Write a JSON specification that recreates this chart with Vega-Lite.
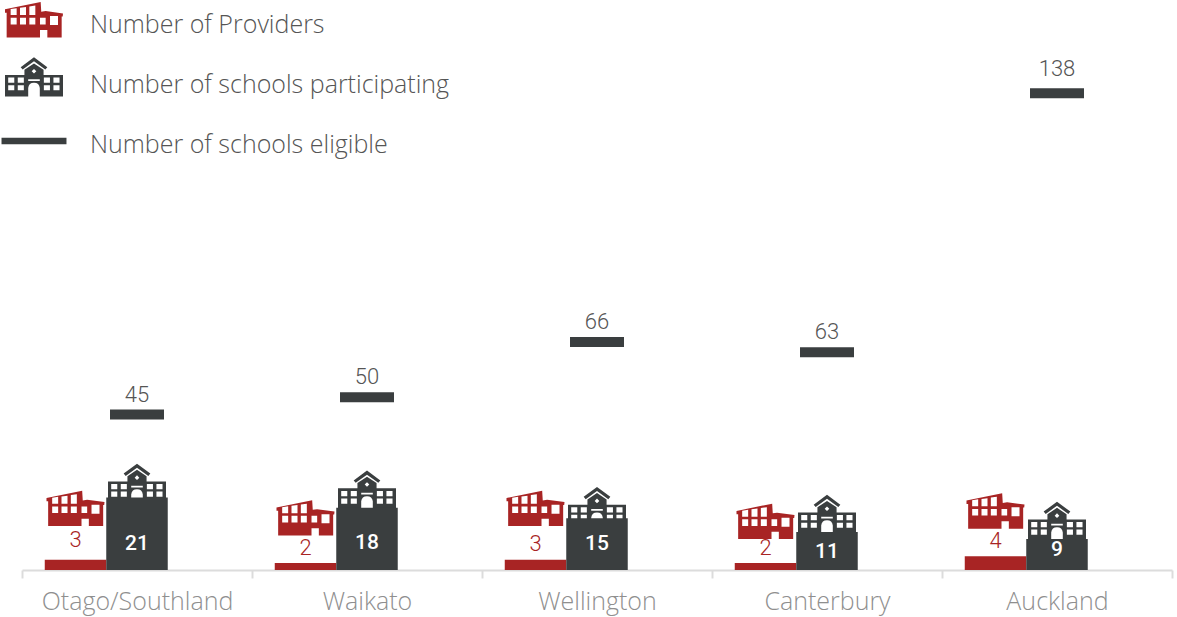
{
"$schema":"https://vega.github.io/schema/vega-lite/v6.json",
"width":1150,"height":570,"autosize":"none",
"padding":{"left":22,"top":0,"right":5,"bottom":47},
"background":"white",
"view":{"stroke":null},
"data":{"values":[
{"region":"Otago/Southland","series":"Number of Providers","value":3},
{"region":"Waikato","series":"Number of Providers","value":2},
{"region":"Wellington","series":"Number of Providers","value":3},
{"region":"Canterbury","series":"Number of Providers","value":2},
{"region":"Auckland","series":"Number of Providers","value":4},
{"region":"Otago/Southland","series":"Number of schools participating","value":21},
{"region":"Waikato","series":"Number of schools participating","value":18},
{"region":"Wellington","series":"Number of schools participating","value":15},
{"region":"Canterbury","series":"Number of schools participating","value":11},
{"region":"Auckland","series":"Number of schools participating","value":9},
{"region":"Otago/Southland","series":"Number of schools eligible","value":45},
{"region":"Waikato","series":"Number of schools eligible","value":50},
{"region":"Wellington","series":"Number of schools eligible","value":66},
{"region":"Canterbury","series":"Number of schools eligible","value":63},
{"region":"Auckland","series":"Number of schools eligible","value":138}
]},
"encoding":{
"x":{"field":"region","type":"nominal","scale":{"domain":["Otago/Southland","Waikato","Wellington","Canterbury","Auckland"],"paddingInner":0,"paddingOuter":0},
"axis":{"title":null,"labelAngle":0,"labelFont":"Open Sans","labelFontWeight":300,"labelFontSize":25,"labelColor":"#8f8f8f","labelPadding":11,"labelLimit":400,"tickBand":"extent","tickSize":8,"tickColor":"#dcdcdc","tickWidth":2,"domainColor":"#dcdcdc","domainWidth":2,"grid":false}},
"y":{"field":"value","type":"quantitative","scale":{"domain":[0,165],"nice":false},"axis":null}
},
"layer":[
{"transform":[{"filter":"datum.series==='Number of Providers' && (datum.region==='Otago/Southland' || datum.region==='Wellington')"}],
 "mark":{"type":"point","filled":true,"opacity":1,"size":3364,"yOffset":-46},
 "encoding":{"xOffset":{"field":"series","scale":{"domain":["Number of Providers","Number of schools participating","gap"],"paddingInner":0,"paddingOuter":0.37}},
 "shape":{"field":"series","type":"nominal","scale":{"domain":["Number of Providers","Number of schools participating","Number of schools eligible"],"range":[
"M-1 -0.54L0.23 -0.79L0.25 -0.457L0.4 -0.48L1 -0.4L0.99 -0.296L0.954 -0.296L0.954 0.43L0.46 0.43L0.46 0.175L0.207 0.175L0.207 0.43L-0.943 0.43L-0.943 -0.423L-1 -0.423ZM-0.805 -0.55L-0.805 -0.342L-0.598 -0.342L-0.598 -0.58ZM-0.483 -0.595L-0.483 -0.342L-0.276 -0.342L-0.276 -0.62ZM-0.161 -0.64L-0.161 -0.342L0.046 -0.342L0.046 -0.67ZM-0.805 -0.25L-0.805 -0.021L-0.598 -0.021L-0.598 -0.25ZM-0.483 -0.25L-0.483 -0.021L-0.276 -0.021L-0.276 -0.25ZM-0.161 -0.25L-0.161 -0.021L0.046 -0.021L0.046 -0.25ZM0.207 -0.25L0.207 -0.021L0.402 -0.021L0.402 -0.25ZM0.552 -0.308L0.552 0.002L0.828 0.002L0.828 -0.308Z",
"M0 -0.955L0.46 -0.615L0.39 -0.535L0 -0.815L-0.39 -0.535L-0.46 -0.615ZM-1 -0.345L-0.33 -0.345L-0.33 -0.525L0 -0.745L0.33 -0.525L0.33 -0.345L1 -0.345L1 0.395L0.2 0.395L0.2 0.105Q0.18 -0.075 0 -0.075Q-0.18 -0.075 -0.2 0.105L-0.2 0.395L-1 0.395ZM0 -0.555L-0.08 -0.475L0 -0.395L0.08 -0.475ZM-0.89 -0.255L-0.89 -0.075L-0.68 -0.075L-0.68 -0.255ZM-0.56 -0.255L-0.56 -0.075L-0.35 -0.075L-0.35 -0.255ZM0.34 -0.255L0.34 -0.075L0.55 -0.075L0.55 -0.255ZM0.67 -0.255L0.67 -0.075L0.88 -0.075L0.88 -0.255ZM-0.89 0.005L-0.89 0.185L-0.68 0.185L-0.68 0.005ZM-0.56 0.005L-0.56 0.185L-0.35 0.185L-0.35 0.005ZM0.34 0.005L0.34 0.185L0.55 0.185L0.55 0.005ZM0.67 0.005L0.67 0.185L0.88 0.185L0.88 0.005ZM-0.2 -0.195L-0.2 -0.135L0.2 -0.135L0.2 -0.195Z",
"M-1.12 -0.25L1.12 -0.25L1.12 -0.03L-1.12 -0.03Z"]},
 "legend":{"title":null,"orient":"none","legendX":-17,"legendY":-4,"padding":0,"symbolSize":3364,"symbolStrokeWidth":0,"rowPadding":18,"labelFont":"Open Sans","labelFontWeight":300,"labelFontSize":25,"labelColor":"#555555","labelOffset":27,"labelLimit":500}},
 "color":{"field":"series","type":"nominal","scale":{"domain":["Number of Providers","Number of schools participating","Number of schools eligible"],"range":["#a82424","#3a3e3f","#3a3e3f"]}}}},
{"transform":[{"filter":"datum.series==='Number of Providers' && (datum.region==='Waikato' || datum.region==='Auckland')"}],
 "mark":{"type":"point","filled":true,"opacity":1,"size":3364,"yOffset":-40},
 "encoding":{"xOffset":{"field":"series"},"shape":{"field":"series","type":"nominal"},"color":{"field":"series","type":"nominal"}}},
{"transform":[{"filter":"datum.series==='Number of Providers' && datum.region==='Canterbury'"}],
 "mark":{"type":"point","filled":true,"opacity":1,"size":3364,"yOffset":-36.5},
 "encoding":{"xOffset":{"field":"series"},"shape":{"field":"series","type":"nominal"},"color":{"field":"series","type":"nominal"}}},
{"transform":[{"filter":"datum.series==='Number of schools participating' && datum.region==='Otago/Southland'"}],
 "mark":{"type":"point","filled":true,"opacity":1,"size":3364,"yOffset":-6},
 "encoding":{"xOffset":{"field":"series"},"shape":{"field":"series","type":"nominal"},"color":{"field":"series","type":"nominal"}}},
{"transform":[{"filter":"datum.series==='Number of schools participating' && (datum.region==='Waikato' || datum.region==='Canterbury' || datum.region==='Auckland')"}],
 "mark":{"type":"point","filled":true,"opacity":1,"size":3364,"yOffset":-9.5},
 "encoding":{"xOffset":{"field":"series"},"shape":{"field":"series","type":"nominal"},"color":{"field":"series","type":"nominal"}}},
{"transform":[{"filter":"datum.series==='Number of schools participating' && datum.region==='Wellington'"}],
 "mark":{"type":"point","filled":true,"opacity":1,"size":3364,"yOffset":-3.5},
 "encoding":{"xOffset":{"field":"series"},"shape":{"field":"series","type":"nominal"},"color":{"field":"series","type":"nominal"}}},
{"transform":[{"filter":"datum.series!=='Number of schools eligible'"}],
 "mark":{"type":"bar"},
 "encoding":{"xOffset":{"field":"series"},"color":{"field":"series","type":"nominal"}}},
{"transform":[{"filter":"datum.series==='Number of schools eligible'"}],
 "mark":{"type":"tick","orient":"horizontal","size":54,"thickness":10,"opacity":1,"color":"#3a3e3f"}},
{"transform":[{"filter":"datum.series==='Number of schools eligible' && datum.region!=='Auckland'"}],
 "mark":{"type":"text","font":"Roboto","fontWeight":300,"fontSize":22,"color":"#555555","baseline":"middle","dy":-20},
 "encoding":{"text":{"field":"value","type":"quantitative"}}},
{"transform":[{"filter":"datum.series==='Number of schools eligible' && datum.region==='Auckland'"}],
 "mark":{"type":"text","font":"Roboto","fontWeight":300,"fontSize":22,"color":"#555555","baseline":"middle","dy":-24},
 "encoding":{"text":{"field":"value","type":"quantitative"}}},
{"transform":[{"filter":"datum.series==='Number of Providers' && datum.region==='Otago/Southland'"}],
 "mark":{"type":"text","font":"Roboto","fontWeight":300,"fontSize":22,"color":"#a82424","baseline":"middle","dy":-20},
 "encoding":{"xOffset":{"field":"series"},"text":{"field":"value","type":"quantitative"}}},
{"transform":[{"filter":"datum.series==='Number of Providers' && datum.region==='Wellington'"}],
 "mark":{"type":"text","font":"Roboto","fontWeight":300,"fontSize":22,"color":"#a82424","baseline":"middle","dy":-16},
 "encoding":{"xOffset":{"field":"series"},"text":{"field":"value","type":"quantitative"}}},
{"transform":[{"filter":"datum.series==='Number of Providers' && datum.region!=='Otago/Southland' && datum.region!=='Wellington'"}],
 "mark":{"type":"text","font":"Roboto","fontWeight":300,"fontSize":22,"color":"#a82424","baseline":"middle","dy":-15},
 "encoding":{"xOffset":{"field":"series"},"text":{"field":"value","type":"quantitative"}}},
{"transform":[{"filter":"datum.series==='Number of schools participating' && datum.region==='Otago/Southland'"}],
 "mark":{"type":"text","font":"Roboto","fontWeight":500,"fontSize":21,"color":"white","baseline":"middle","dy":46.5},
 "encoding":{"xOffset":{"field":"series"},"text":{"field":"value","type":"quantitative"}}},
{"transform":[{"filter":"datum.series==='Number of schools participating' && datum.region==='Waikato'"}],
 "mark":{"type":"text","font":"Roboto","fontWeight":500,"fontSize":21,"color":"white","baseline":"middle","dy":35},
 "encoding":{"xOffset":{"field":"series"},"text":{"field":"value","type":"quantitative"}}},
{"transform":[{"filter":"datum.series==='Number of schools participating' && datum.region==='Wellington'"}],
 "mark":{"type":"text","font":"Roboto","fontWeight":500,"fontSize":21,"color":"white","baseline":"middle","dy":26},
 "encoding":{"xOffset":{"field":"series"},"text":{"field":"value","type":"quantitative"}}},
{"transform":[{"filter":"datum.series==='Number of schools participating' && datum.region==='Canterbury'"}],
 "mark":{"type":"text","font":"Roboto","fontWeight":500,"fontSize":21,"color":"white","baseline":"middle","dy":20},
 "encoding":{"xOffset":{"field":"series"},"text":{"field":"value","type":"quantitative"}}},
{"transform":[{"filter":"datum.series==='Number of schools participating' && datum.region==='Auckland'"}],
 "mark":{"type":"text","font":"Roboto","fontWeight":500,"fontSize":21,"color":"white","baseline":"middle","dy":11},
 "encoding":{"xOffset":{"field":"series"},"text":{"field":"value","type":"quantitative"}}}
]
}
